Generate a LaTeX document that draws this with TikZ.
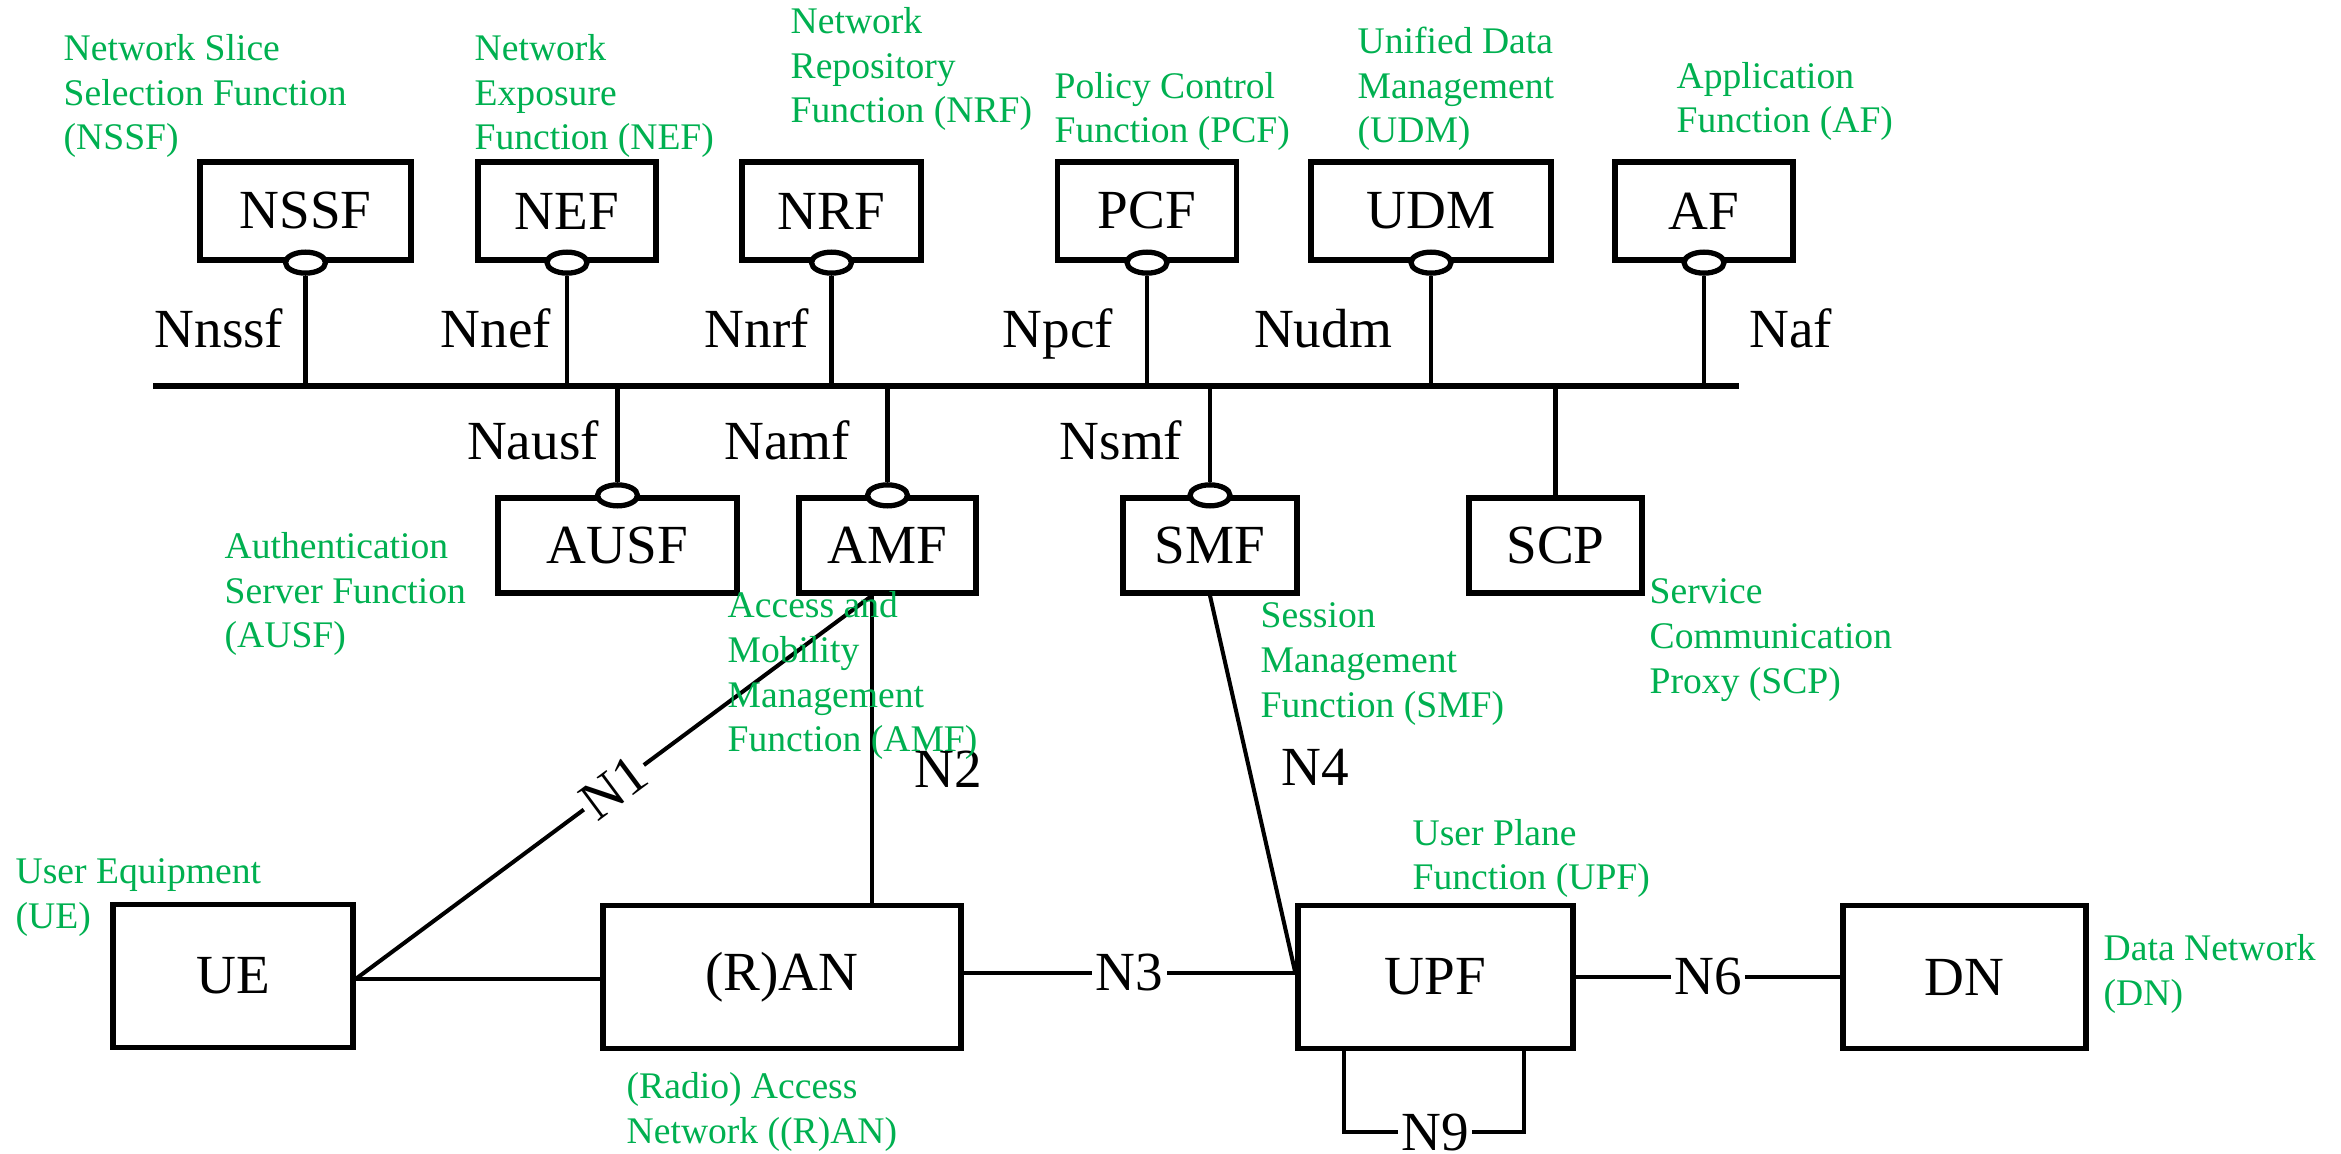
\documentclass[tikz,border=0pt]{standalone}
\usepackage{fontspec}
\setmainfont{Liberation Serif}
\usetikzlibrary{shapes.geometric}
\definecolor{cngreen}{HTML}{00B050}
\newcommand{\nfbig}{\fontsize{15.7}{18}\selectfont}
\newcommand{\nfsmall}{\fontsize{10.7}{12.8}\selectfont}
\tikzset{
  nf/.style={draw=black, line width=1.5pt, fill=white, inner sep=0pt, minimum height=9.8mm, font=\nfbig},
  nfl/.style={nf, minimum height=9.5mm},
  nfb/.style={nf, minimum height=14.3mm},
  sbi/.style={ellipse, draw=black, line width=1.5pt, fill=white, inner sep=0pt, minimum width=4mm, minimum height=2.1mm},
  desc/.style={text=cngreen, font=\nfsmall, align=left, inner sep=0pt, anchor=base west},
  ifc/.style={font=\nfbig, inner sep=0pt, anchor=base},
  onl/.style={font=\nfbig, fill=white, inner sep=1pt},
  ln/.style={line width=1.15pt},
  lnb/.style={line width=1.4pt},
  bus/.style={line width=1.5pt},
}
\begin{document}
\begin{tikzpicture}[x=0.1mm, y=-0.1mm]
    \useasboundingbox (0,0) rectangle (2341,1154);
    \node[nf, minimum width=21.1mm] (nssf) at (305.5,211) {NSSF};
    \node[nf, minimum width=17.8mm] (nef) at (567,211) {NEF};
    \node[nf, minimum width=17.9mm] (nrf) at (831.5,211) {NRF};
    \node[nf, minimum width=17.9mm] (pcf) at (1147,211) {PCF};
    \node[nf, minimum width=24mm] (udm) at (1431,211) {UDM};
    \node[nf, minimum width=17.8mm] (af) at (1704,211) {AF};
    \node[nfl, minimum width=23.9mm] (ausf) at (617.5,545.5) {AUSF};
    \node[nfl, minimum width=17.7mm] (amf) at (887.5,545.5) {AMF};
    \node[nfl, minimum width=17.4mm] (smf) at (1210,545.5) {SMF};
    \node[nfl, minimum width=17.3mm] (scp) at (1555.5,545.5) {SCP};
    \node[nfb, minimum width=24mm] (ue) at (233,976) {UE};
    \node[nfb, minimum width=35.8mm] (ran) at (782,977) {(R)AN};
    \node[nfb, minimum width=27.5mm] (upf) at (1435.5,977) {UPF};
    \node[nfb, minimum width=24.3mm] (dn) at (1964.5,977) {DN};
    \node[sbi] (nssfs) at (nssf.south) {}; \node[sbi] (nefs) at (nef.south) {}; \node[sbi] (nrfs) at (nrf.south) {};
    \node[sbi] (pcfs) at (pcf.south) {}; \node[sbi] (udms) at (udm.south) {}; \node[sbi] (afs) at (af.south) {};
    \node[sbi] (ausfs) at (ausf.north) {}; \node[sbi] (amfs) at (amf.north) {}; \node[sbi] (smfs) at (smf.north) {};
    \coordinate (bw) at (153,386); \coordinate (be) at (1739,386);
    \coordinate (amfp) at ([xshift=-1.55mm]amf.south);
    \coordinate (n9) at (1435,1132);
    \draw[bus] (bw) -- (be);
    \draw[ln] (nssfs.south) -- (nssfs.south |- bw); \draw[ln] (nefs.south) -- (nefs.south |- bw); \draw[ln] (nrfs.south) -- (nrfs.south |- bw);
    \draw[ln] (pcfs.south) -- (pcfs.south |- bw); \draw[ln] (udms.south) -- (udms.south |- bw); \draw[ln] (afs.south) -- (afs.south |- bw);
    \draw[ln] (ausfs.north) -- (ausfs.north |- bw); \draw[ln] (amfs.north) -- (amfs.north |- bw); \draw[ln] (smfs.north) -- (smfs.north |- bw);
    \draw[ln] (scp.north) -- (scp.north |- bw);
    \draw[ln] ([yshift=-0.3mm]ue.east) -- node[onl, sloped] {N1} (amfp);
    \draw[ln] (amfp) -- (amfp |- ran.north);
    \draw[ln] (smf.south) -- ([yshift=0.4mm]upf.west);
    \draw[lnb] ([yshift=-0.3mm]ue.east) -- ([yshift=-0.3mm]ue.east -| ran.west); \draw[lnb] ([yshift=0.4mm]ran.east) -- node[onl] {N3} ([yshift=0.4mm]upf.west); \draw[lnb] (upf) -- node[onl] {N6} (dn);
    \draw[ln] ([xshift=-9.15mm]upf.south) |- (n9) node[onl] {N9} -| ([xshift=8.85mm]upf.south);
    \node[ifc] (nnssf) at (219,348) {Nnssf}; \node[ifc] (nnef) at (496,348) {Nnef}; \node[ifc] (nnrf) at (757,348) {Nnrf};
    \node[ifc] (npcf) at (1058,348) {Npcf}; \node[ifc] (nudm) at (1323,348) {Nudm}; \node[ifc] (naf) at (1791,348) {Naf};
    \node[ifc] (nausf) at (533,460) {Nausf}; \node[ifc] (namf) at (787,460) {Namf}; \node[ifc] (nsmf) at (1121,460) {Nsmf};
    \node[ifc] (ntwo) at (948,787) {N2}; \node[ifc] (nfour) at (1315,785) {N4};
    \node[desc] (nssfd) at (63,150) {Network Slice\\Selection Function\\(NSSF)};
    \node[desc] (nefd) at (474,150) {Network\\Exposure\\Function (NEF)};
    \node[desc] (nrfd) at (790,123) {Network\\Repository\\Function (NRF)};
    \node[desc] (pcfd) at (1054,143) {Policy Control\\Function (PCF)};
    \node[desc] (udmd) at (1357,143) {Unified Data\\Management\\(UDM)};
    \node[desc] (afd) at (1676,133) {Application\\Function (AF)};
    \node[desc] (ausfd) at (224,648) {Authentication\\Server Function\\(AUSF)};
    \node[desc] (amfd) at (727,752) {Access and\\Mobility\\Management\\Function (AMF)};
    \node[desc] (smfd) at (1260,717) {Session\\Management\\Function (SMF)};
    \node[desc] (scpd) at (1649,693) {Service\\Communication\\Proxy (SCP)};
    \node[desc] (ued) at (15,928) {User Equipment\\(UE)};
    \node[desc] (rand) at (626,1143) {(Radio) Access\\Network ((R)AN)};
    \node[desc] (upfd) at (1412,890) {User Plane\\Function (UPF)};
    \node[desc] (dnd) at (2103,1005) {Data Network\\(DN)};
\end{tikzpicture}
\end{document}
